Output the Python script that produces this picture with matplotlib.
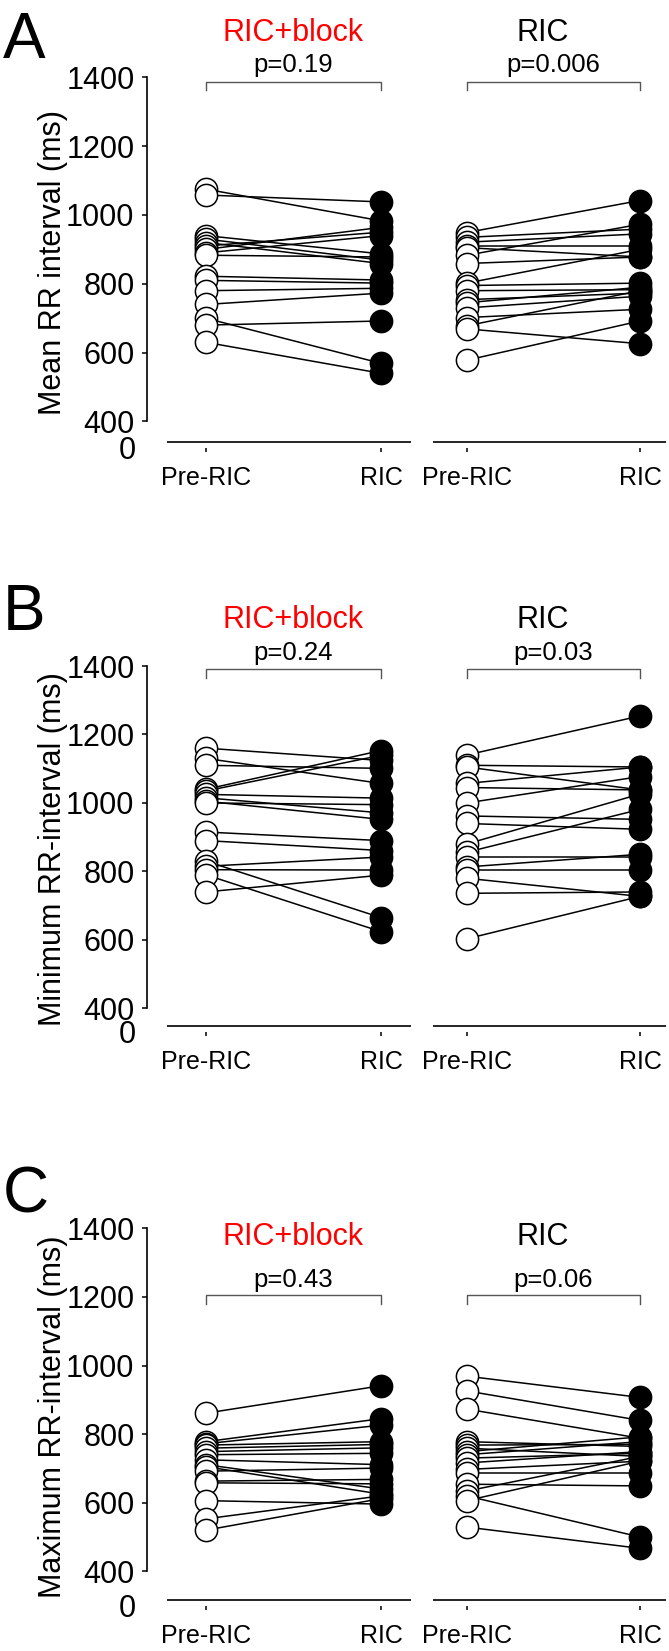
import matplotlib
matplotlib.use("Agg")
import matplotlib.pyplot as plt

plt.rcParams['font.family'] = ['Liberation Sans', 'DejaVu Sans']

groups = ["RIC+block", "RIC"]
group_colors = ["red", "black"]
conditions = ["Pre-RIC", "RIC"]
yticks = [400, 600, 800, 1000, 1200, 1400]

# A - mean RR interval (ms)
mean_block_pre = [1075, 1058, 940, 930, 920, 910, 900, 890, 883, 822, 810, 780, 740, 700, 680, 630]
mean_block_ric = [983, 1038, 887, 869, 859, 950, 964, 940, 878, 811, 802, 787, 773, 569, 692, 540]
mean_ric_pre = [949, 935, 921, 911, 905, 883, 859, 802, 795, 780, 754, 745, 730, 702, 678, 669, 578]
mean_ric_ric = [1042, 959, 945, 911, 878, 973, 878, 900, 802, 783, 773, 790, 764, 726, 780, 626, 692]
p_mean = ["p=0.19", "p=0.006"]

# B - minimum RR interval (ms)
min_block_pre = [1160, 1130, 1110, 1040, 1035, 1025, 1015, 1005, 1000, 915, 890, 830, 815, 805, 790, 740]
min_block_ric = [1124, 1057, 1101, 1153, 1139, 1014, 971, 952, 995, 890, 861, 665, 842, 804, 624, 789]
min_ric_pre = [1140, 1110, 1105, 1057, 1045, 1000, 962, 940, 880, 856, 842, 813, 804, 780, 736, 603]
min_ric_ric = [1254, 1105, 1038, 1105, 1038, 1077, 952, 923, 1026, 981, 842, 850, 804, 727, 740, 727]
p_min = ["p=0.24", "p=0.03"]

# C - maximum RR interval (ms)
max_block_pre = [861, 778, 772, 768, 759, 749, 740, 725, 711, 705, 692, 663, 658, 606, 553, 520]
max_block_ric = [941, 845, 826, 778, 770, 760, 744, 711, 640, 625, 701, 668, 655, 596, 620, 612]
max_ric_pre = [969, 926, 873, 778, 768, 759, 749, 740, 730, 716, 697, 687, 654, 634, 620, 606, 529]
max_ric_ric = [907, 840, 788, 764, 770, 735, 792, 778, 744, 749, 721, 687, 649, 735, 500, 721, 467]
p_max = ["p=0.43", "p=0.06"]

W, H = 669, 1651
fig = plt.figure(figsize=(W / 100, H / 100), dpi=100)

X_POS = [[0, 1], [1.49, 2.48]]
TITLE_DX = [0, -0.06]
XLIM = (-0.337, 2.646)
X_SEGS = [(-0.22, 1.17), (1.30, 2.63)]

panels = [
    dict(letter="A", ylabel="Mean RR interval (ms)",
         data=[(mean_block_pre, mean_block_ric), (mean_ric_pre, mean_ric_ric)], p=p_mean,
         top=77.3, bottom=447.7, ymin=341, letter_y=58, title_dy=45, p_dy=12, br_dy=-4.4),
    dict(letter="B", ylabel="Minimum RR-interval (ms)",
         data=[(min_block_pre, min_block_ric), (min_ric_pre, min_ric_ric)], p=p_min,
         top=666.0, bottom=1031.7, ymin=349, letter_y=630, title_dy=47, p_dy=13, br_dy=-3),
    dict(letter="C", ylabel="Maximum RR-interval (ms)",
         data=[(max_block_pre, max_block_ric), (max_ric_pre, max_ric_ric)], p=p_max,
         top=1228.3, bottom=1605.7, ymin=317, letter_y=1212, title_dy=-9, p_dy=-53, br_dy=-68),
]

for pn in panels:
    ax = fig.add_axes([147 / W, 1 - pn["bottom"] / H, 522 / W, (pn["bottom"] - pn["top"]) / H])
    ax.set_xlim(*XLIM)
    ax.set_ylim(pn["ymin"], 1400)
    scale = (1400 - pn["ymin"]) / (pn["bottom"] - pn["top"])  # ms per pixel

    for gi, (pre, post) in enumerate(pn["data"]):
        x0, x1 = X_POS[gi]
        for a, b in zip(pre, post):
            ax.plot([x0, x1], [a, b], color="black", lw=1.1, zorder=2)
        ax.plot([x0] * len(pre), pre, "o", ms=16, mfc="white", mec="black", mew=1.1, zorder=3, clip_on=False)
        ax.plot([x1] * len(post), post, "o", ms=16, mfc="black", mec="black", mew=1.1, zorder=4, clip_on=False)

        # group title, p value and bracket
        ax.text((x0 + x1) / 2 + TITLE_DX[gi], 1400 + pn["title_dy"] * scale, groups[gi],
                color=group_colors[gi], fontsize=22, ha="center", va="center")
        ax.text((x0 + x1) / 2, 1400 + pn["p_dy"] * scale, pn["p"][gi],
                fontsize=18.5, ha="center", va="center")
        yb = 1400 + pn["br_dy"] * scale
        ax.plot([x0, x0, x1, x1], [yb - 9 * scale, yb, yb, yb - 9 * scale], color="#555555", lw=1,
                clip_on=False)

    for s in ["top", "right", "bottom"]:
        ax.spines[s].set_visible(False)
    ax.spines["left"].set_bounds(400, 1400)
    ax.spines["left"].set_linewidth(1.2)
    for s0, s1 in X_SEGS:
        ax.plot([s0, s1], [pn["ymin"], pn["ymin"]], color="black", lw=1.2, clip_on=False,
                solid_capstyle="butt")

    ax.set_yticks(yticks)
    ax.set_yticks([pn["ymin"] - 6 * scale], labels=["0"], minor=True)
    ax.tick_params(axis="y", which="major", length=3.5, width=1.1, pad=5.5, labelsize=22)
    ax.tick_params(axis="y", which="minor", length=0, pad=8.0, labelsize=22)
    ax.set_xticks([x for g in X_POS for x in g], labels=conditions * 2)
    ax.tick_params(axis="x", length=3, width=1.1, pad=10, labelsize=18)
    ax.set_ylabel(pn["ylabel"], fontsize=22)
    ax.yaxis.set_label_coords(-0.152, 0.5)

    fig.text(3 / W, 1 - pn["letter_y"] / H, pn["letter"], fontsize=46, va="baseline", ha="left")

fig.savefig("out.png", dpi=100)
